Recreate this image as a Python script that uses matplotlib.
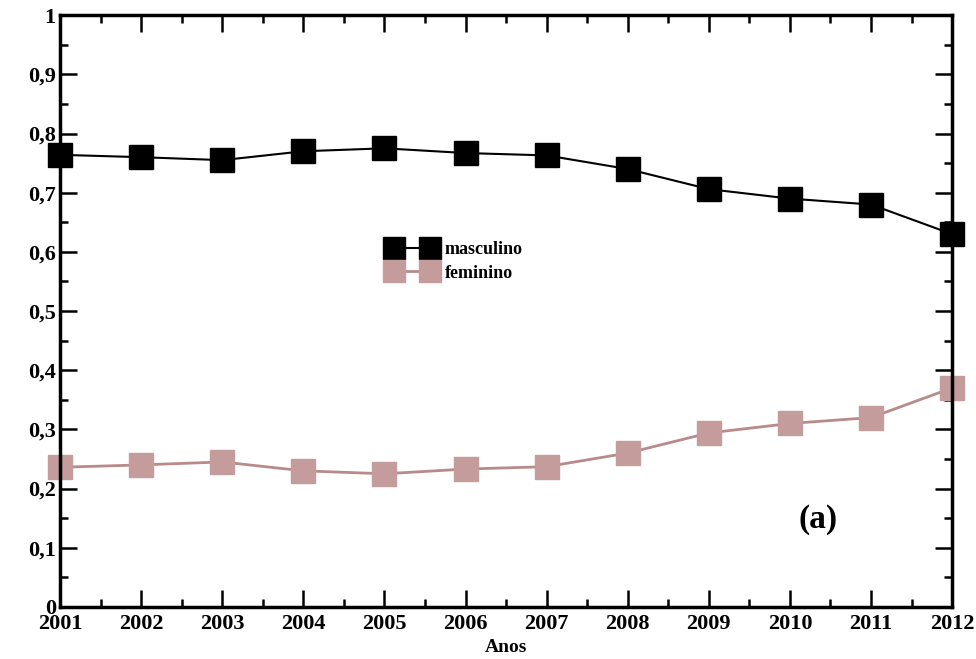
import matplotlib.pyplot as plt
from matplotlib.ticker import MultipleLocator, FuncFormatter

anos = [2001, 2002, 2003, 2004, 2005, 2006, 2007, 2008, 2009, 2010, 2011, 2012]
masculino = [0.764, 0.760, 0.755, 0.770, 0.775, 0.767, 0.763, 0.740, 0.706, 0.690, 0.680, 0.630]
feminino = [0.236, 0.240, 0.245, 0.230, 0.225, 0.233, 0.237, 0.260, 0.294, 0.310, 0.320, 0.370]

plt.rcParams['font.family'] = ['Liberation Serif', 'DejaVu Serif']
plt.rcParams['font.weight'] = 'bold'

fig = plt.figure(figsize=(9.76, 6.59), dpi=100)
ax = fig.add_axes([0.0615, 0.079, 0.914, 0.898])

ax.plot(anos, masculino, color='black', lw=1.5, marker='s', ms=17,
        mfc='black', mec='black', label='masculino', clip_on=False)
ax.plot(anos, feminino, color='#b88a8a', lw=2, marker='s', ms=17,
        mfc='#c49c9c', mec='#c49c9c', label='feminino', clip_on=False)

ax.set_xlim(2001, 2012)
ax.set_ylim(0, 1)
ax.xaxis.set_major_locator(MultipleLocator(1))
ax.xaxis.set_minor_locator(MultipleLocator(0.5))
ax.yaxis.set_major_locator(MultipleLocator(0.1))
ax.yaxis.set_minor_locator(MultipleLocator(0.05))

def virgula(v, pos):
    if abs(v) < 1e-9:
        return '0'
    if abs(v - 1) < 1e-9:
        return '1'
    return ('%.1f' % v).replace('.', ',')

ax.yaxis.set_major_formatter(FuncFormatter(virgula))
ax.xaxis.set_major_formatter(FuncFormatter(lambda v, p: '%d' % v))

ax.tick_params(which='both', direction='in', top=True, right=True, width=1.8,
               labelsize=16, pad=3)
ax.tick_params(axis='x', pad=5)
ax.tick_params(which='major', length=12)
ax.tick_params(which='minor', length=6)
for s in ax.spines.values():
    s.set_linewidth(2.5)

ax.set_xlabel('Anos', fontsize=14, fontweight='bold', labelpad=4)
ax.text(0.85, 0.147, '(a)', transform=ax.transAxes, fontsize=24,
        fontweight='bold', ha='center', va='center')

leg = ax.legend(loc='upper left', bbox_to_anchor=(0.35, 0.645), frameon=False,
                numpoints=2, handlelength=2.6, fontsize=13, markerscale=0.95,
                labelspacing=0.35, handletextpad=0.5)

fig.savefig('out.png', dpi=100)
